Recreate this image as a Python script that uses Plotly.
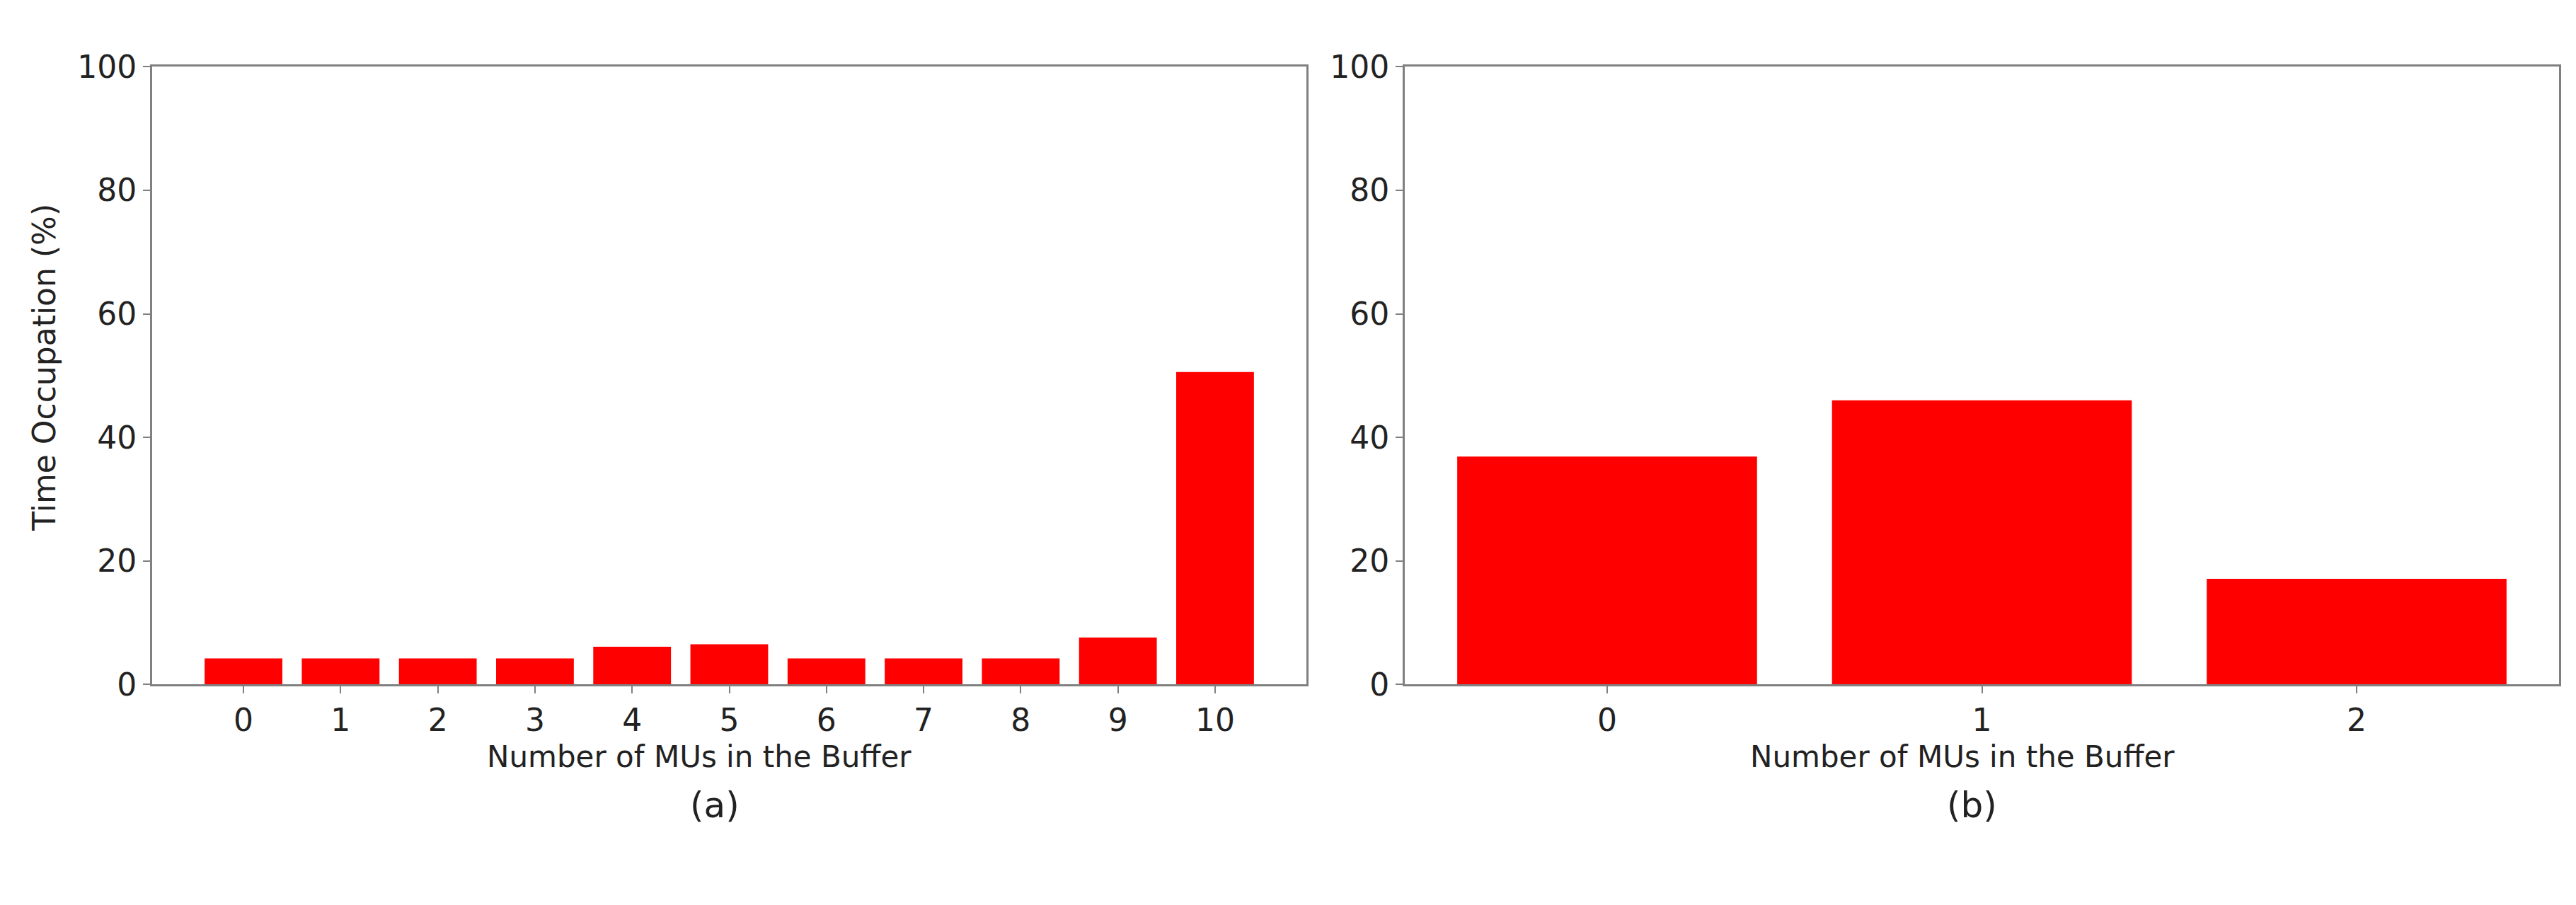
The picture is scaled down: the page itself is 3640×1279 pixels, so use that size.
import plotly.graph_objects as go
from plotly.subplots import make_subplots

# Data
cats_a = [0, 1, 2, 3, 4, 5, 6, 7, 8, 9, 10]
vals_a = [4.2, 4.2, 4.2, 4.2, 6.1, 6.5, 4.2, 4.2, 4.2, 7.6, 50.6]
cats_b = [0, 1, 2]
vals_b = [36.9, 46.0, 17.1]
y_ticks = [0, 20, 40, 60, 80, 100]
x_title = "Number of MUs in the Buffer"
y_title = "Time Occupation (%)"
panel_labels = ["(a)", "(b)"]

W, H = 3640, 1279
FONT = "DejaVu Sans"
AX_COL = "#808080"
TXT_COL = "#222222"

fig = make_subplots(rows=1, cols=2)

fig.add_trace(go.Bar(x=cats_a, y=vals_a, marker=dict(color="#ff0000", line=dict(width=0)),
                     width=0.8, showlegend=False), row=1, col=1)
fig.add_trace(go.Bar(x=cats_b, y=vals_b, marker=dict(color="#ff0000", line=dict(width=0)),
                     width=0.8, showlegend=False), row=1, col=2)

ydom = [1 - 972 / H, 1 - 63 / H]
common_axis = dict(showline=True, linecolor=AX_COL, linewidth=3, mirror=True,
                   ticks="outside", ticklen=10, tickwidth=2, tickcolor=AX_COL,
                   showgrid=False, zeroline=False,
                   tickfont=dict(family=FONT, size=44, color=TXT_COL))

fig.update_xaxes(**common_axis)
fig.update_yaxes(**common_axis)

fig.update_layout(
    xaxis=dict(domain=[207 / W, 1838 / W], range=[-0.94, 10.94],
               tickmode="array", tickvals=cats_a, ticktext=[str(c) for c in cats_a]),
    xaxis2=dict(domain=[1977 / W, 3608 / W], range=[-0.54, 2.54],
                tickmode="array", tickvals=cats_b, ticktext=[str(c) for c in cats_b]),
    yaxis=dict(domain=ydom, range=[0, 100], tickmode="array", tickvals=y_ticks),
    yaxis2=dict(domain=ydom, range=[0, 100], tickmode="array", tickvals=y_ticks),
    width=W, height=H,
    margin=dict(l=0, r=0, t=0, b=0),
    paper_bgcolor="white", plot_bgcolor="white",
    bargap=0.2,
)

annotations = [
    dict(text=x_title, x=980 / W, y=1 - 1078 / H, xref="paper", yref="paper",
         xanchor="center", yanchor="middle", showarrow=False,
         font=dict(family=FONT, size=42, color=TXT_COL)),
    dict(text=x_title, x=2765 / W, y=1 - 1078 / H, xref="paper", yref="paper",
         xanchor="center", yanchor="middle", showarrow=False,
         font=dict(family=FONT, size=42, color=TXT_COL)),
    dict(text=y_title, x=55 / W, y=1 - 506 / H, xref="paper", yref="paper",
         xanchor="center", yanchor="middle", showarrow=False, textangle=-90,
         font=dict(family=FONT, size=44, color=TXT_COL)),
    dict(text=panel_labels[0], x=1002 / W, y=1 - 1150 / H, xref="paper", yref="paper",
         xanchor="center", yanchor="middle", showarrow=False,
         font=dict(family=FONT, size=50, color=TXT_COL)),
    dict(text=panel_labels[1], x=2778 / W, y=1 - 1150 / H, xref="paper", yref="paper",
         xanchor="center", yanchor="middle", showarrow=False,
         font=dict(family=FONT, size=50, color=TXT_COL)),
]
fig.update_layout(annotations=annotations)

fig.write_html("out.html")
